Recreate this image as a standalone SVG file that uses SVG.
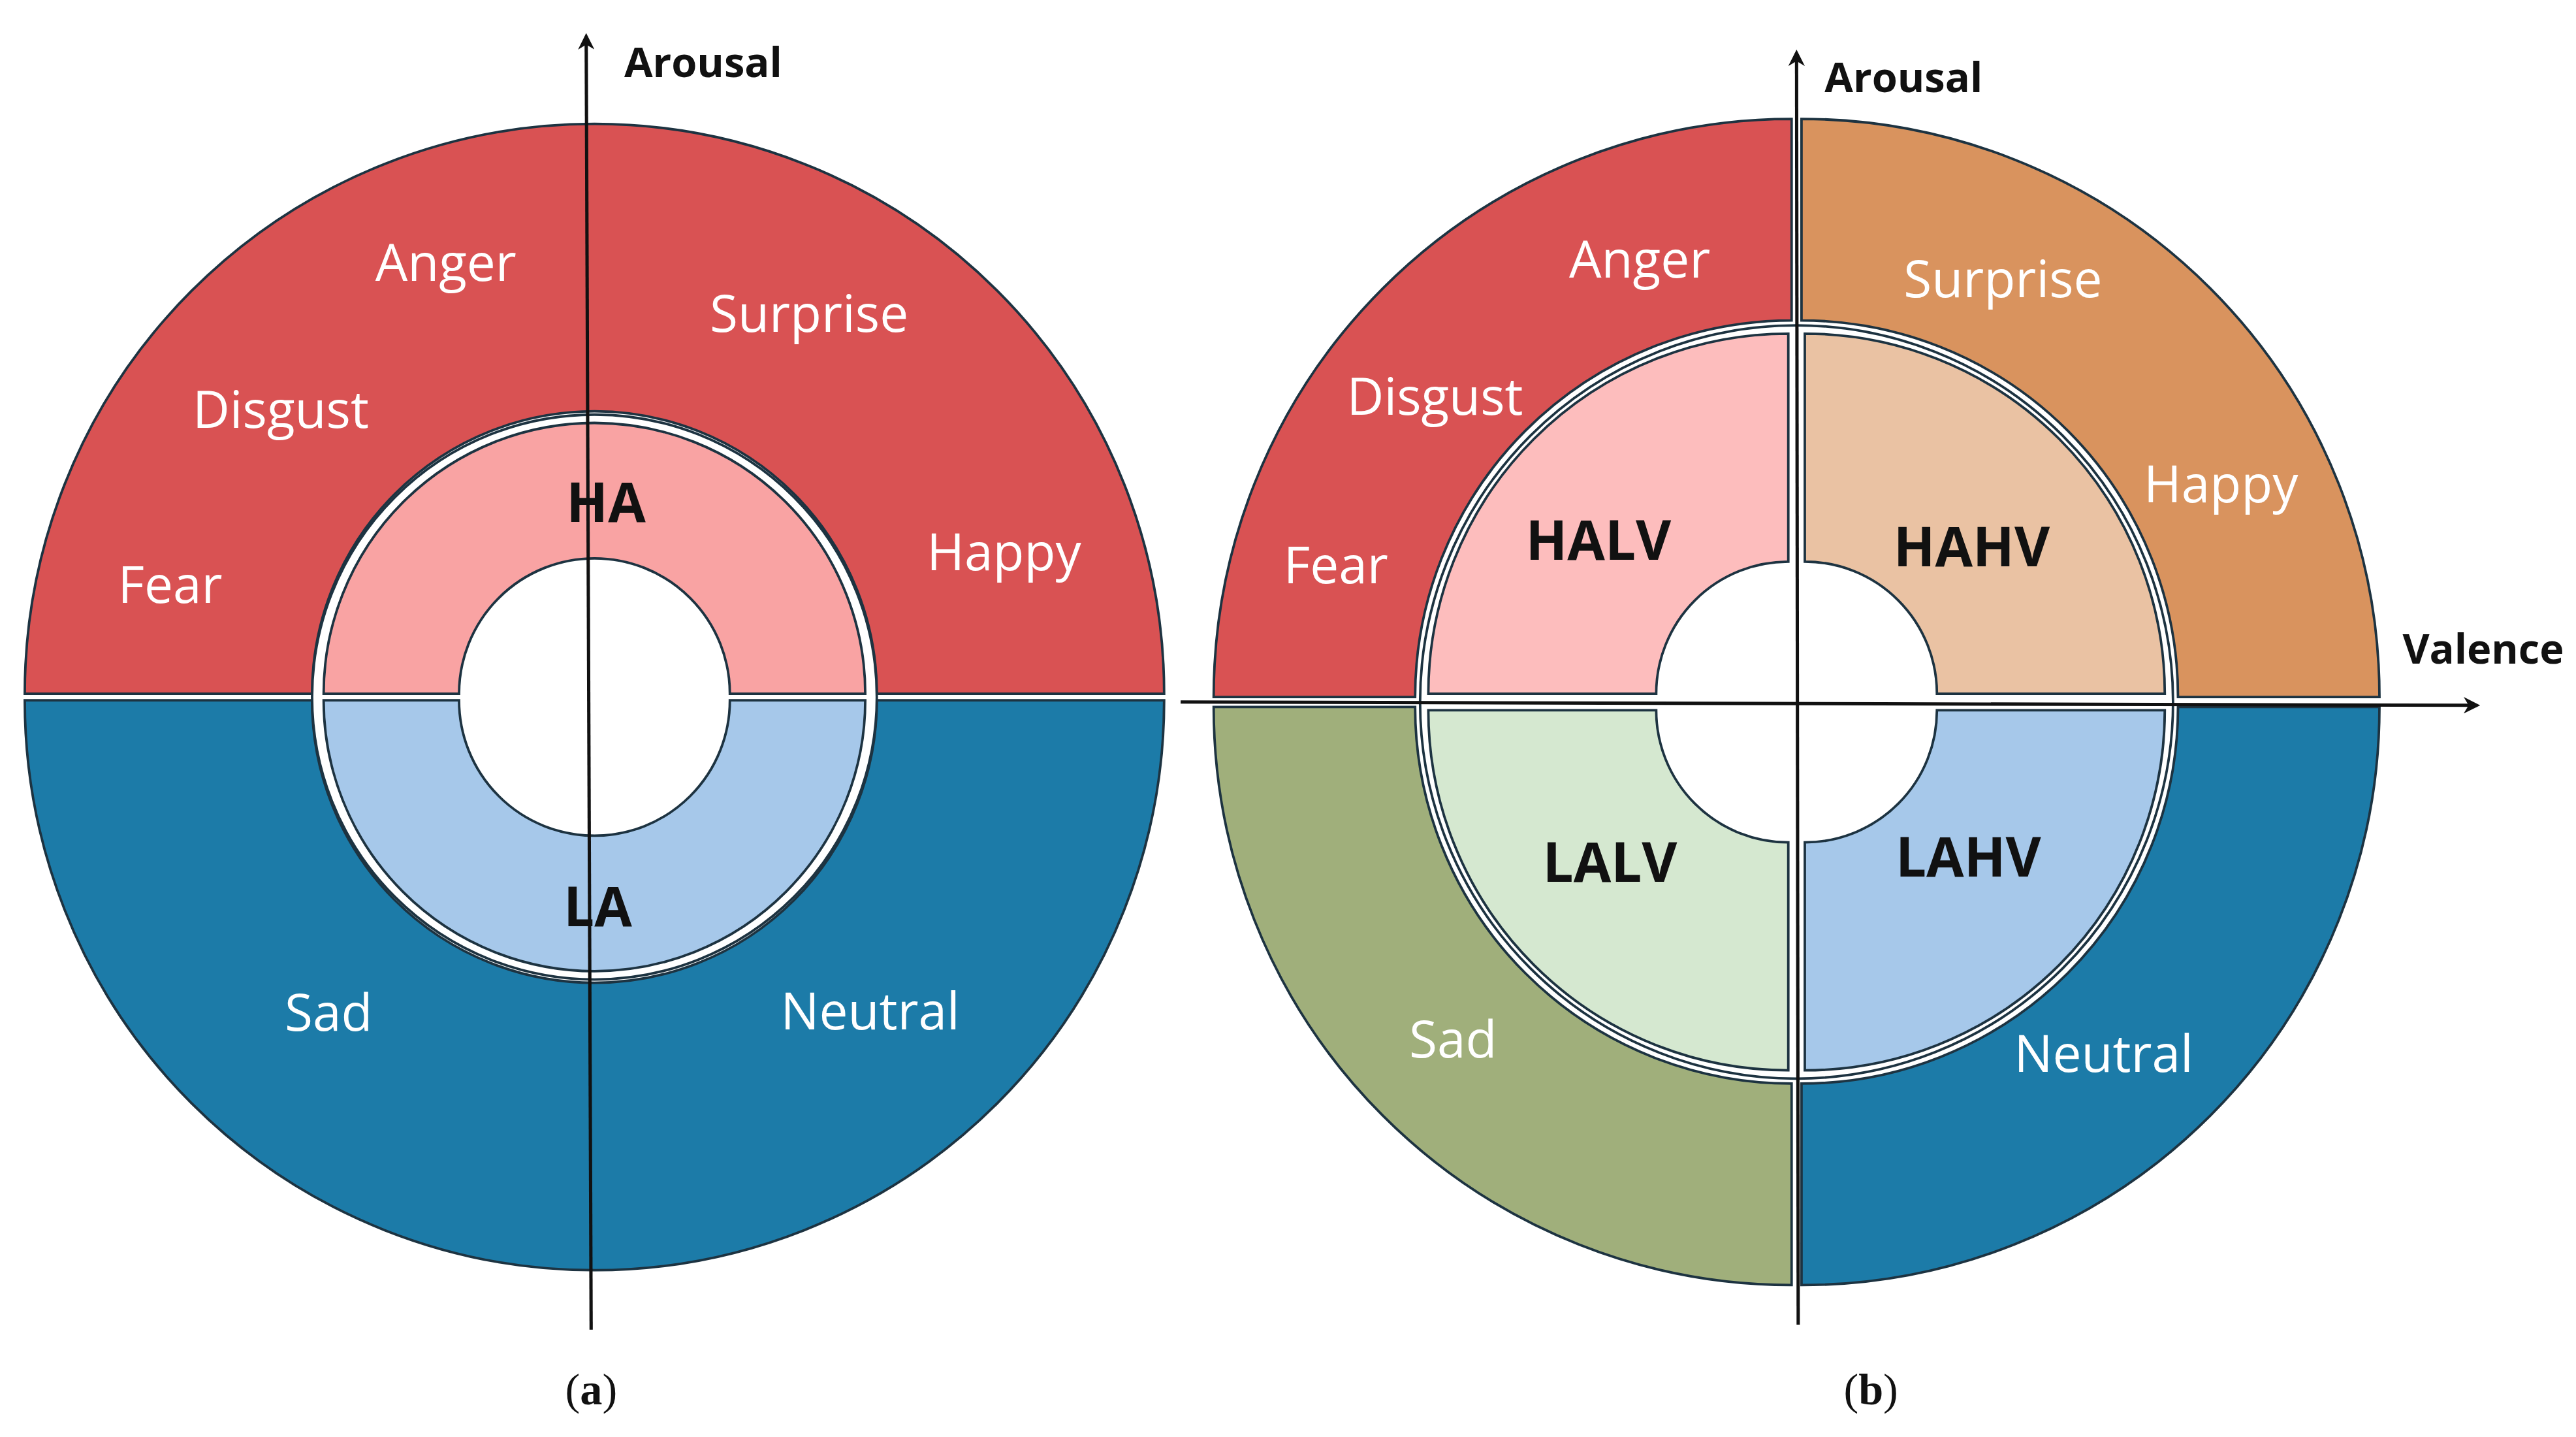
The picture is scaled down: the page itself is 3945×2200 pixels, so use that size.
<svg xmlns="http://www.w3.org/2000/svg" width="3945" height="2200" viewBox="0 0 3945 2200">
<style>
.w{fill:#fff;font-family:"Open Sans","Liberation Sans",sans-serif;font-size:31px;text-anchor:middle;dominant-baseline:central}
.b{fill:#111;font-family:"Open Sans","Liberation Sans",sans-serif;font-size:33px;font-weight:bold;text-anchor:middle;dominant-baseline:central}
.ax{fill:#111;font-family:"Open Sans","Liberation Sans",sans-serif;font-size:25px;font-weight:bold;dominant-baseline:central}
.cap{fill:#111;font-family:"Liberation Serif",serif;font-size:27px;text-anchor:middle;dominant-baseline:central}
.s{stroke:#1d3341;stroke-width:1.5}
.ln{stroke:#111;stroke-width:2;fill:none}
</style>
<defs><marker id="ar" markerWidth="10" markerHeight="10" refX="8" refY="5" orient="auto" markerUnits="userSpaceOnUse"><path d="M0,0 L10,5 L0,10 L3,5 Z" fill="#111"/></marker></defs>
<rect width="3945" height="2200" fill="#fff"/>
<g transform="scale(2.5288)">
<g id="diagram-a">
<path class="s" fill="#D95253" transform="translate(0,-2)" d="M15,422 A345,345 0 0 1 705,422 L531,422 A171,171 0 0 0 189,422 Z"/>
<path class="s" fill="#1C7BA8" transform="translate(0,2)" d="M15,422 A345,345 0 0 0 705,422 L531,422 A171,171 0 0 1 189,422 Z"/>
<circle cx="360" cy="422" r="171" fill="#fff" class="s"/>
<path class="s" fill="#F9A3A3" transform="translate(0,-2)" d="M196,422 A164,164 0 0 1 524,422 L442,422 A82,82 0 0 0 278,422 Z"/>
<path class="s" fill="#A6C8EA" transform="translate(0,2)" d="M196,422 A164,164 0 0 0 524,422 L442,422 A82,82 0 0 1 278,422 Z"/>
</g>
<g id="diagram-b">
<path class="s" fill="#D95253" transform="translate(-3,-3)" d="M738,425 A350,350 0 0 1 1088,75 L1088,197 A228,228 0 0 0 860,425 Z"/>
<path class="s" fill="#D9935E" transform="translate(3,-3)" d="M1438,425 A350,350 0 0 0 1088,75 L1088,197 A228,228 0 0 1 1316,425 Z"/>
<path class="s" fill="#A0AF7B" transform="translate(-3,3)" d="M738,425 A350,350 0 0 0 1088,775 L1088,653 A228,228 0 0 1 860,425 Z"/>
<path class="s" fill="#1C7BA8" transform="translate(3,3)" d="M1438,425 A350,350 0 0 1 1088,775 L1088,653 A228,228 0 0 0 1316,425 Z"/>
<circle cx="1088" cy="425" r="228" fill="#fff" class="s"/>
<path class="s" fill="#FDBDBD" transform="translate(-5,-5)" d="M870,425 A218,218 0 0 1 1088,207 L1088,345 A80,80 0 0 0 1008,425 Z"/>
<path class="s" fill="#EAC2A3" transform="translate(5,-5)" d="M1306,425 A218,218 0 0 0 1088,207 L1088,345 A80,80 0 0 1 1168,425 Z"/>
<path class="s" fill="#D5E8D0" transform="translate(-5,5)" d="M870,425 A218,218 0 0 0 1088,643 L1088,505 A80,80 0 0 1 1008,425 Z"/>
<path class="s" fill="#A6C8EA" transform="translate(5,5)" d="M1306,425 A218,218 0 0 1 1088,643 L1088,505 A80,80 0 0 0 1168,425 Z"/>
</g>
<g id="connectors">
<line class="ln" x1="358" y1="805" x2="355" y2="22" marker-end="url(#ar)"/>
<line class="ln" x1="1089" y1="802" x2="1088" y2="32" marker-end="url(#ar)"/>
<line class="ln" x1="715" y1="425" x2="1500" y2="427" marker-end="url(#ar)"/>
</g>
<g id="labels-a">
<text class="ax" x="378" y="37">Arousal</text>
<text class="w" x="270" y="158">Anger</text>
<text class="w" x="170" y="247">Disgust</text>
<text class="w" x="103" y="353">Fear</text>
<text class="w" x="490" y="189">Surprise</text>
<text class="w" x="608" y="333">Happy</text>
<text class="w" x="199" y="612">Sad</text>
<text class="w" x="527" y="611">Neutral</text>
<text class="b" x="367" y="303">HA</text>
<text class="b" x="362" y="548">LA</text>
<text class="cap" x="358" y="841">(<tspan font-weight="bold">a</tspan>)</text>
</g>
<g id="labels-b">
<text class="ax" x="1105" y="46">Arousal</text>
<text class="ax" x="1455" y="392">Valence</text>
<text class="w" x="993" y="156">Anger</text>
<text class="w" x="869" y="239">Disgust</text>
<text class="w" x="809" y="341">Fear</text>
<text class="w" x="1213" y="168">Surprise</text>
<text class="w" x="1345" y="292">Happy</text>
<text class="w" x="880" y="628">Sad</text>
<text class="w" x="1274" y="637">Neutral</text>
<text class="b" x="968" y="326">HALV</text>
<text class="b" x="1194" y="330">HAHV</text>
<text class="b" x="975" y="521">LALV</text>
<text class="b" x="1192" y="518">LAHV</text>
<text class="cap" x="1133" y="841">(<tspan font-weight="bold">b</tspan>)</text>
</g>
</g>
</svg>
